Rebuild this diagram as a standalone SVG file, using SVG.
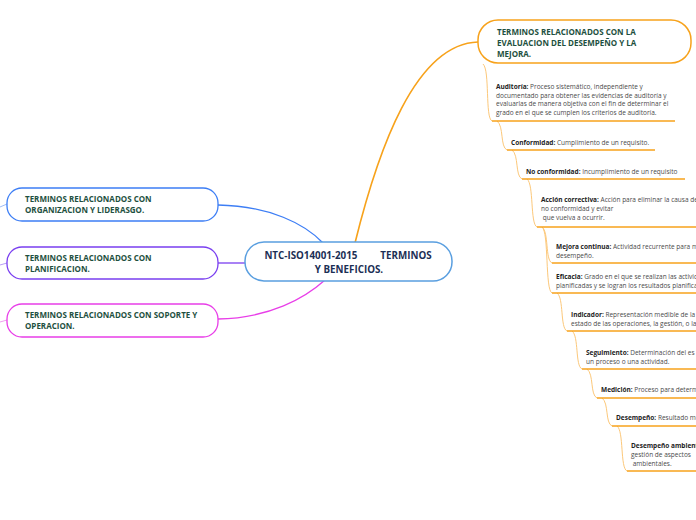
<svg xmlns="http://www.w3.org/2000/svg" width="696" height="520" viewBox="0 0 696 520">
<style>
.main{fill:#fff;stroke:#5a9fe0;stroke-width:1.5}
.nt{font-family:"Open Sans","Noto Sans",sans-serif;font-weight:bold;fill:#1e5040;font-size:8px}
.ct{font-family:"Open Sans","Noto Sans",sans-serif;font-weight:bold;fill:#1c2f55;font-size:9.8px}
.it{font-family:"Open Sans","Noto Sans",sans-serif;fill:#4a4a4a;font-size:6.5px}
.it tspan.b{font-weight:bold;fill:#222}
.ul{stroke:#f7a21b;stroke-width:1.6;fill:none}
.sc{stroke:#fcc87a;stroke-width:1;fill:none}
</style>
<rect width="696" height="520" fill="#fff"/>
<g id="connectors" fill="none">
  <path d="M218,205 C270,206 305,224 323,243" stroke="#3d7ef5" stroke-width="1.3"/>
  <path d="M218,263 L245,263" stroke="#7a3ff0" stroke-width="1.3"/>
  <path d="M218,319 C270,318 305,298 325,280" stroke="#e83ee8" stroke-width="1.3"/>
  <path d="M355,243 C378,150 415,44 478,42" stroke="#f7a21b" stroke-width="1.6"/>
  <path d="M0,207 L7,204" stroke="#9dbcf7" stroke-width="1"/>
  <path d="M0,265 L7,263" stroke="#b79cf5" stroke-width="1"/>
  <path d="M0,322 L7,320" stroke="#f09cf0" stroke-width="1"/>
  <path class="sc" d="M483,64 C490,70 485,118 492,121"/>
  <path class="sc" d="M497,121 C504,126 500,147 507,150"/>
  <path class="sc" d="M512,150 C519,155 515,176 522,179"/>
  <path class="sc" d="M527,179 C534,184 530,224 537,227"/>
  <path class="sc" d="M542,227 C549,232 545,260 552,263"/>
  <path class="sc" d="M542,227 C549,232 545,290 552,293"/>
  <path class="sc" d="M557,293 C564,298 560,328 567,331"/>
  <path class="sc" d="M572,331 C579,336 575,366 582,369"/>
  <path class="sc" d="M587,369 C594,374 590,395 597,398"/>
  <path class="sc" d="M602,398 C609,403 605,423 612,426"/>
  <path class="sc" d="M617,426 C624,431 620,468 627,471"/>
</g>
<g id="central">
  <rect class="main" x="245" y="242" width="207" height="39" rx="19"/>
  <text class="ct" text-anchor="middle" xml:space="preserve"><tspan x="348" y="259">NTC-ISO14001-2015         TERMINOS</tspan><tspan x="349" y="273">Y BENEFICIOS.</tspan></text>
</g>
<g id="n-organizacion">
  <rect x="7" y="188" width="211" height="33" rx="15" fill="#fff" stroke="#3d7ef5" stroke-width="1.3"/>
  <text class="nt"><tspan x="25" y="202">TERMINOS RELACIONADOS CON</tspan><tspan x="25" y="213">ORGANIZACION Y LIDERASGO.</tspan></text>
</g>
<g id="n-planificacion">
  <rect x="7" y="247" width="211" height="32" rx="15" fill="#fff" stroke="#7a3ff0" stroke-width="1.3"/>
  <text class="nt"><tspan x="25" y="261">TERMINOS RELACIONADOS CON</tspan><tspan x="25" y="272">PLANIFICACION.</tspan></text>
</g>
<g id="n-soporte">
  <rect x="7" y="304" width="211" height="33" rx="15" fill="#fff" stroke="#e83ee8" stroke-width="1.3"/>
  <text class="nt"><tspan x="25" y="318">TERMINOS RELACIONADOS CON SOPORTE Y</tspan><tspan x="25" y="329">OPERACION.</tspan></text>
</g>
<g id="n-evaluacion">
  <rect x="478" y="20" width="213" height="43" rx="20" fill="#fff" stroke="#f7a21b" stroke-width="1.5"/>
  <text class="nt"><tspan x="497" y="35">TERMINOS RELACIONADOS CON LA</tspan><tspan x="497" y="46">EVALUACION DEL DESEMPEÑO Y LA</tspan><tspan x="497" y="57">MEJORA.</tspan></text>
</g>
<g id="t-auditoria">
  <text class="it"><tspan x="496" y="89"><tspan class="b">Auditoría:</tspan> Proceso sistemático, independiente y</tspan><tspan x="496" y="98">documentado para obtener las evidencias de auditoría y</tspan><tspan x="496" y="106">evaluarlas de manera objetiva con el fin de determinar el</tspan><tspan x="496" y="115">grado en el que se cumplen los criterios de auditoría.</tspan></text>
  <path class="ul" d="M492,121 H675"/>
</g>
<g id="t-conformidad">
  <text class="it"><tspan x="511" y="145"><tspan class="b">Conformidad:</tspan> Cumplimiento de un requisito.</tspan></text>
  <path class="ul" d="M507,150 H655"/>
</g>
<g id="t-noconformidad">
  <text class="it"><tspan x="526" y="174"><tspan class="b">No conformidad:</tspan> Incumplimiento de un requisito</tspan></text>
  <path class="ul" d="M522,179 H685"/>
</g>
<g id="t-accion">
  <text class="it" xml:space="preserve"><tspan x="541" y="202"><tspan class="b">Acción correctiva:</tspan> Acción para eliminar la causa de</tspan><tspan x="541" y="211">no conformidad y evitar</tspan><tspan x="541" y="220"> que vuelva a ocurrir.</tspan></text>
  <path class="ul" d="M537,227 H696"/>
</g>
<g id="t-mejora">
  <text class="it"><tspan x="556" y="249"><tspan class="b">Mejora continua:</tspan> Actividad recurrente para m</tspan><tspan x="556" y="258">desempeño.</tspan></text>
  <path class="ul" d="M552,263 H696"/>
</g>
<g id="t-eficacia">
  <text class="it"><tspan x="556" y="279"><tspan class="b">Eficacia:</tspan> Grado en el que se realizan las activid</tspan><tspan x="556" y="288">planificadas y se logran los resultados planifica</tspan></text>
  <path class="ul" d="M552,293 H696"/>
</g>
<g id="t-indicador">
  <text class="it"><tspan x="571" y="317"><tspan class="b">Indicador:</tspan> Representación medible de la</tspan><tspan x="571" y="326">estado de las operaciones, la gestión, o las</tspan></text>
  <path class="ul" d="M567,331 H696"/>
</g>
<g id="t-seguimiento">
  <text class="it"><tspan x="586" y="355"><tspan class="b">Seguimiento:</tspan> Determinación del es</tspan><tspan x="586" y="364">un proceso o una actividad.</tspan></text>
  <path class="ul" d="M582,369 H696"/>
</g>
<g id="t-medicion">
  <text class="it"><tspan x="601" y="392"><tspan class="b">Medición:</tspan> Proceso para determin</tspan></text>
  <path class="ul" d="M597,398 H696"/>
</g>
<g id="t-desempeno">
  <text class="it"><tspan x="616" y="420"><tspan class="b">Desempeño:</tspan> Resultado med</tspan></text>
  <path class="ul" d="M612,426 H696"/>
</g>
<g id="t-desempeno-amb">
  <text class="it"><tspan x="631" y="448"><tspan class="b">Desempeño ambienta</tspan></tspan><tspan x="631" y="457">gestión de aspectos</tspan><tspan x="631" y="466"> ambientales.</tspan></text>
  <path class="ul" d="M627,471 H696"/>
</g>
</svg>
